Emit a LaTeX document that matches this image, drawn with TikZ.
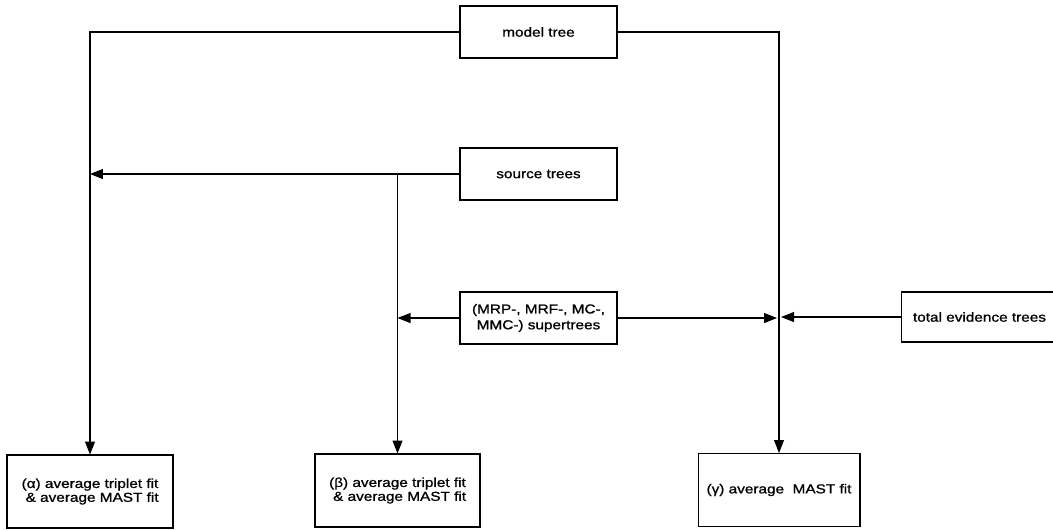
\documentclass[tikz,border=0pt]{standalone}
\usepackage{fontspec}
\setmainfont{Liberation Sans}[FakeStretch=1.18, FakeBold=1]
\usetikzlibrary{arrows.meta}
\tikzset{
  tbox/.style={draw, line width=0.6pt, inner sep=0pt, align=center,
    minimum width=3.14cm, minimum height=1.04cm,
    font=\fontsize{7.4}{9}\selectfont},
  resbox/.style={tbox, minimum height=1.46cm, font=\fontsize{7.4}{6.8}\selectfont},
  flow/.style={line width=0.6pt, -{Triangle[length=0.26cm,width=0.2cm]}},
  link/.style={line width=0.6pt}
}
\begin{document}
\begin{tikzpicture}[x=0.02cm, y=-0.02cm]
  \useasboundingbox (0,0) rectangle (1053,529);
  % inputs
  \node[tbox] (model) at (538.5,32) {model tree};
  \node[tbox] (source) at (538.5,174) {source trees};
  \node[tbox] (super) at (538.5,318) {(MRP-, MRF-, MC-,\\MMC-) supertrees};
  \node[tbox, minimum height=1cm] (total) at (979.5,317) {total evidence trees};
  % fits
  \node[resbox, minimum width=3.32cm] (alpha) at (90,491.5) {(α) average triplet fit\\ \ \& average MAST fit};
  \node[resbox, minimum width=3.3cm] (beta) at (397.5,490.5) {(β) average triplet fit\\ \ \& average MAST fit};
  \node[resbox, minimum width=3.24cm] (gamma) at (779,490) {(γ) average\ \ MAST fit};
  % connectors
  \draw[flow] (model.west) -| (alpha.north);
  \draw[flow] (model.east) -| (gamma.north);
  \draw[flow] (source.west) -- (source.west -| alpha.north);
  \draw[flow] (source.west -| beta.north) -- (beta.north);
  \draw[flow] (super.west) -- (super.west -| beta.north);
  \draw[flow] (super.east) -- ([xshift=-0.04cm]super.east -| gamma.north);
  \draw[flow] (total.west) -- ([xshift=0.04cm]total.west -| gamma.north);
\end{tikzpicture}
\end{document}
